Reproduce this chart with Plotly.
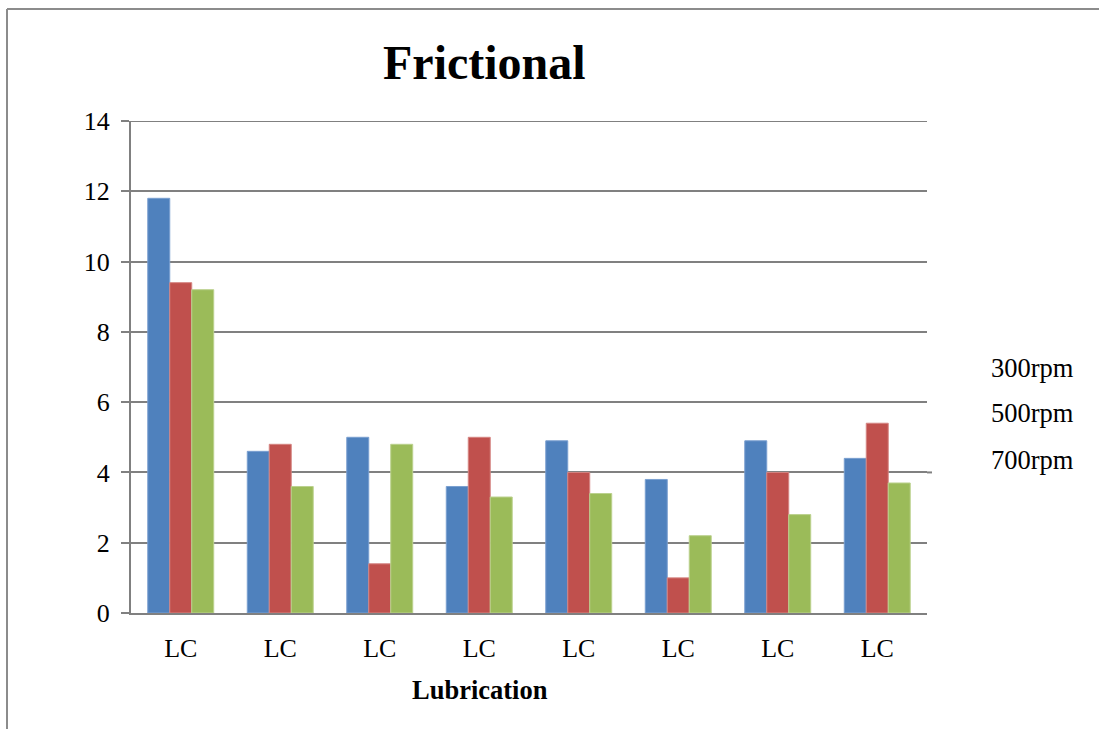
import plotly.graph_objects as go

# Chart data
categories = ["LC"] * 8
series_names = ["300rpm", "500rpm", "700rpm"]
rpm_300 = [11.8, 4.6, 5.0, 3.6, 4.9, 3.8, 4.9, 4.4]
rpm_500 = [9.4, 4.8, 1.4, 5.0, 4.0, 1.0, 4.0, 5.4]
rpm_700 = [9.2, 3.6, 4.8, 3.3, 3.4, 2.2, 2.8, 3.7]
y_ticks = [0, 2, 4, 6, 8, 10, 12, 14]

colors = ["#4F81BD", "#C0504D", "#9BBB59"]
edge_colors = ["#7A9FD0", "#D58583", "#BBD18E"]
serif = "Liberation Serif, Times New Roman, serif"
grid_color = "#808080"

W, H = 1099, 729
L, R, T, B = 131, 172, 121, 116
pw, ph = W - L - R, H - T - B


def px(x):
    return (x - L) / pw


def py(y):
    return (H - B - y) / ph


x_pos = list(range(len(categories)))
fig = go.Figure()
for name, vals, c, ec in zip(series_names, [rpm_300, rpm_500, rpm_700], colors, edge_colors):
    fig.add_trace(go.Bar(
        x=x_pos, y=vals, name=name,
        marker=dict(color=c, line=dict(color=ec, width=1)),
    ))

fig.update_layout(
    width=W, height=H,
    margin=dict(l=L, r=R, t=T, b=B),
    paper_bgcolor="white", plot_bgcolor="white",
    barmode="group", bargap=0.337, bargroupgap=0,
    showlegend=False,
    font=dict(family=serif, color="black", size=26),
)

fig.update_xaxes(
    tickmode="array", tickvals=x_pos, ticktext=categories,
    range=[-0.5, len(categories) - 0.5],
    showline=True, linecolor=grid_color, linewidth=2,
    showgrid=False, ticks="", ticklabelstandoff=11,
    tickfont=dict(family=serif, size=26, color="black"),
)
fig.update_yaxes(
    range=[0, 14], tickvals=y_ticks,
    showline=True, linecolor=grid_color, linewidth=2,
    showgrid=True, gridcolor=grid_color, gridwidth=2,
    ticks="outside", ticklen=8, tickcolor=grid_color, tickwidth=2,
    ticklabelstandoff=6, zeroline=False,
    tickfont=dict(family=serif, size=26, color="black"),
)

# Gridline at the top of the value range, plus the short stub past the 4 line
fig.add_shape(type="line", xref="paper", yref="y", layer="below",
              x0=0, x1=1, y0=14, y1=14, line=dict(color=grid_color, width=2))
fig.add_shape(type="line", xref="paper", yref="y", layer="below",
              x0=1, x1=px(932), y0=4, y1=4, line=dict(color=grid_color, width=2))

# Title and axis title
fig.add_annotation(
    text="<b>Frictional</b>", xref="paper", yref="paper",
    x=px(484), y=py(62), xanchor="center", yanchor="middle",
    showarrow=False, font=dict(family=serif, size=48, color="black"),
)
fig.add_annotation(
    text="<b>Lubrication</b>", xref="paper", yref="paper",
    x=px(480), y=py(690), xanchor="center", yanchor="middle",
    showarrow=False, font=dict(family=serif, size=26.5, color="black"),
)

# Series labels on the right
for name, yc in zip(series_names, [368, 413, 460]):
    fig.add_annotation(
        text=name, xref="paper", yref="paper",
        x=px(989), y=py(yc), xanchor="left", yanchor="middle",
        showarrow=False, font=dict(family=serif, size=26.5, color="black"),
    )

# Outer frame (top and left edges)
frame = dict(color="#8C8C8C", width=2)
fig.add_shape(type="line", xref="paper", yref="paper",
              x0=px(7), x1=px(1099), y0=py(9), y1=py(9), line=frame)
fig.add_shape(type="line", xref="paper", yref="paper",
              x0=px(7), x1=px(7), y0=py(9), y1=py(729), line=frame)

fig.write_html("out.html")
